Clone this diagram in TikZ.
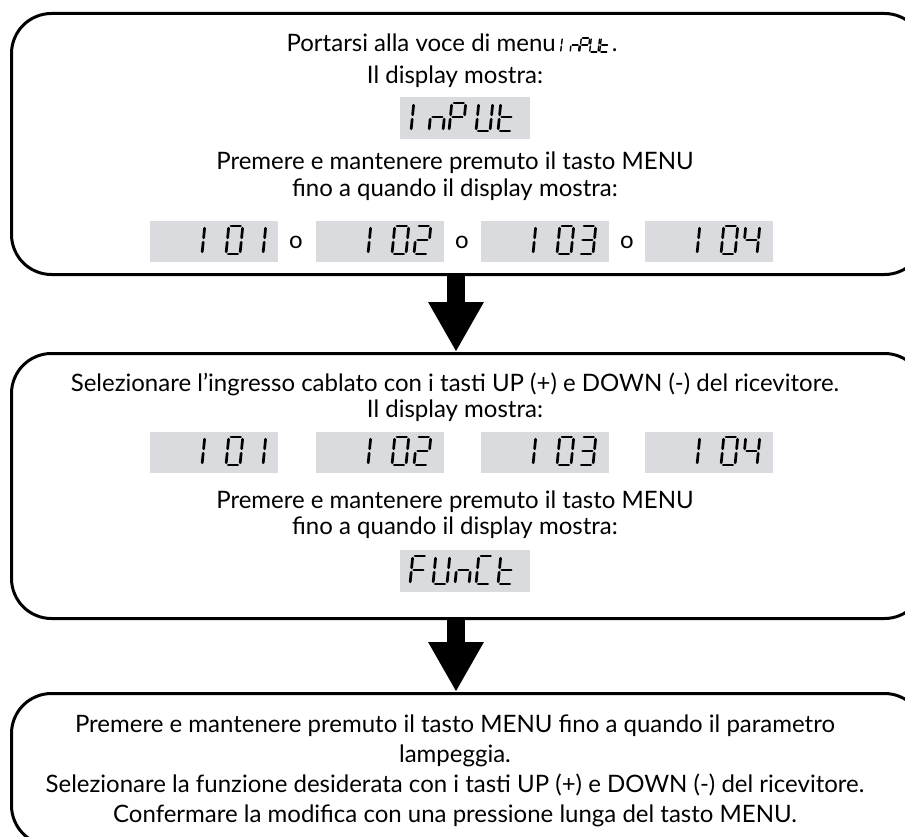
\documentclass[tikz,border=0pt]{standalone}
\usepackage{fontspec}
\setmainfont{Lato}
\usetikzlibrary{arrows.meta}
\definecolor{dispgray}{RGB}{218,219,223}
% seven-segment pieces (local units: W=14, H=28, y up)
\newcommand\segpa{\draw[segline] (2.2,28) -- (11.8,28);}
\newcommand\segpb{\draw[segline] (14,25.8) -- (14,16.2);}
\newcommand\segpc{\draw[segline] (14,11.8) -- (14,2.2);}
\newcommand\segpd{\draw[segline] (2.2,0) -- (11.8,0);}
\newcommand\segpe{\draw[segline] (0,2.2) -- (0,11.8);}
\newcommand\segpf{\draw[segline] (0,16.2) -- (0,25.8);}
\newcommand\segpg{\draw[segline] (2.2,14) -- (11.8,14);}
% \sschar{x}{baseline y}{scale options}{segments}
\newcommand\sschar[4]{%
  \begin{scope}[shift={(#1,#2)}, y=1pt, #3, xslant=0.1]
    \foreach \s in {#4}{\csname segp\s\endcsname}
  \end{scope}}
\begin{document}
\begin{tikzpicture}[x=1pt,y=-1pt,
  stepbox/.style={draw=black, line width=3pt, rounded corners=40pt, inner sep=0pt, anchor=north west},
  txt/.style={font=\fontsize{24}{29}\selectfont, inner sep=0pt, anchor=base},
  dispbox/.style={fill=dispgray, inner sep=0pt, anchor=north west, minimum width=128pt, minimum height=41pt},
  segline/.style={line width=2.7pt, line cap=round},
  bigarrow/.style={line width=18pt, -{Triangle[width=52pt,length=50pt]}},
]
\clip (0,0) rectangle (905,837);
\fill[white] (0,0) rectangle (905,837);

% ---------- step boxes ----------
\node[stepbox, minimum width=913pt, minimum height=261pt] (b1) at (10,12) {};
\node[stepbox, minimum width=913pt, minimum height=265pt] (b2) at (10,352) {};
\node[stepbox, minimum width=913pt, minimum height=152pt] (b3) at (10,692) {};

% ---------- arrows ----------
\coordinate (ax) at (456,0);
\draw[bigarrow] (b1.south -| ax) -- (b2.north -| ax);
\draw[bigarrow] (b2.south -| ax) -- (b3.north -| ax);

% ---------- box 1 ----------
\node[txt] (l1) at (452,52) {Portarsi alla voce di menu\hspace{56pt}.};
\begin{scope}[shift={(l1.base east)}, segline/.append style={line width=1.4pt}]
  \sschar{-57}{0}{xscale=0.6,yscale=0.5}{e,f}
  \sschar{-47.5}{0}{xscale=0.6,yscale=0.5}{e,g,c}
  \sschar{-38}{0}{xscale=0.6,yscale=0.5}{a,b,f,g,e}
  \sschar{-28}{0}{xscale=0.6,yscale=0.5}{f,e,d,c,b}
  \sschar{-18}{0}{xscale=0.6,yscale=0.5}{f,e,g,d}
\end{scope}
\node[txt] (l2) at (455,84) {Il display mostra:};
\node[dispbox, minimum width=130pt, minimum height=42pt] (din) at (400,97) {};
\sschar{411}{131}{scale=1}{e,f}
\sschar{429}{131}{scale=1}{e,g,c}
\sschar{449}{131}{scale=1}{a,b,f,g,e}
\sschar{476}{131}{scale=1}{f,e,d,c,b}
\sschar{498}{131}{scale=1}{f,e,g,d}
\node[txt] (l3) at (455,170) {Premere e mantenere premuto il tasto MENU};
\node[txt] (l4) at (455,197) {fino a quando il display mostra:};

\node[dispbox] (d11) at (150,221) {};
\node[dispbox] (d12) at (316,221) {};
\node[dispbox] (d13) at (481,221) {};
\node[dispbox] (d14) at (645,221) {};
\node[txt] (o1) at (296,248) {o};
\node[txt] (o2) at (462,248) {o};
\node[txt] (o3) at (627,248) {o};
% 101
\sschar{202}{254}{scale=1}{e,f}\sschar{226}{254}{scale=1}{a,b,c,d,e,f}\sschar{249}{254}{scale=1}{b,c}
% 102
\sschar{368}{254}{scale=1}{e,f}\sschar{392}{254}{scale=1}{a,b,c,d,e,f}\sschar{414}{254}{scale=1}{a,b,g,e,d}
% 103
\sschar{533}{254}{scale=1}{e,f}\sschar{557}{254}{scale=1}{a,b,c,d,e,f}\sschar{579}{254}{scale=1}{a,b,g,c,d}
% 104
\sschar{697}{254}{scale=1}{e,f}\sschar{721}{254}{scale=1}{a,b,c,d,e,f}\sschar{743}{254}{scale=1}{f,g,b,c}

% ---------- box 2 ----------
\node[txt] (m1) at (455,391) {Selezionare l’ingresso cablato con i tasti UP (+) e DOWN (-) del ricevitore.};
\node[txt] (m2) at (455,417) {Il display mostra:};
\node[dispbox] (d21) at (150,432) {};
\node[dispbox] (d22) at (316,432) {};
\node[dispbox] (d23) at (481,432) {};
\node[dispbox] (d24) at (645,432) {};
\sschar{202}{465}{scale=1}{e,f}\sschar{226}{465}{scale=1}{a,b,c,d,e,f}\sschar{249}{465}{scale=1}{b,c}
\sschar{368}{465}{scale=1}{e,f}\sschar{392}{465}{scale=1}{a,b,c,d,e,f}\sschar{414}{465}{scale=1}{a,b,g,e,d}
\sschar{533}{465}{scale=1}{e,f}\sschar{557}{465}{scale=1}{a,b,c,d,e,f}\sschar{579}{465}{scale=1}{a,b,g,c,d}
\sschar{697}{465}{scale=1}{e,f}\sschar{721}{465}{scale=1}{a,b,c,d,e,f}\sschar{743}{465}{scale=1}{f,g,b,c}
\node[txt] (m3) at (455,508) {Premere e mantenere premuto il tasto MENU};
\node[txt] (m4) at (455,534) {fino a quando il display mostra:};
\node[dispbox, minimum width=130pt, minimum height=42pt] (dfu) at (400,550) {};
\sschar{410}{584}{scale=1}{a,f,g,e}
\sschar{433}{584}{scale=1}{f,e,d,c,b}
\sschar{455}{584}{scale=1}{e,g,c}
\sschar{476}{584}{scale=1}{a,f,e,d}
\sschar{498}{584}{scale=1}{f,e,g,d}

% ---------- box 3 ----------
\node[txt] (n1) at (455,732) {Premere e mantenere premuto il tasto MENU fino a quando il parametro};
\node[txt] (n2) at (455,762) {lampeggia.};
\node[txt] (n3) at (455,792) {Selezionare la funzione desiderata con i tasti UP (+) e DOWN (-) del ricevitore.};
\node[txt] (n4) at (455,822) {Confermare la modifica con una pressione lunga del tasto MENU.};
\end{tikzpicture}
\end{document}
